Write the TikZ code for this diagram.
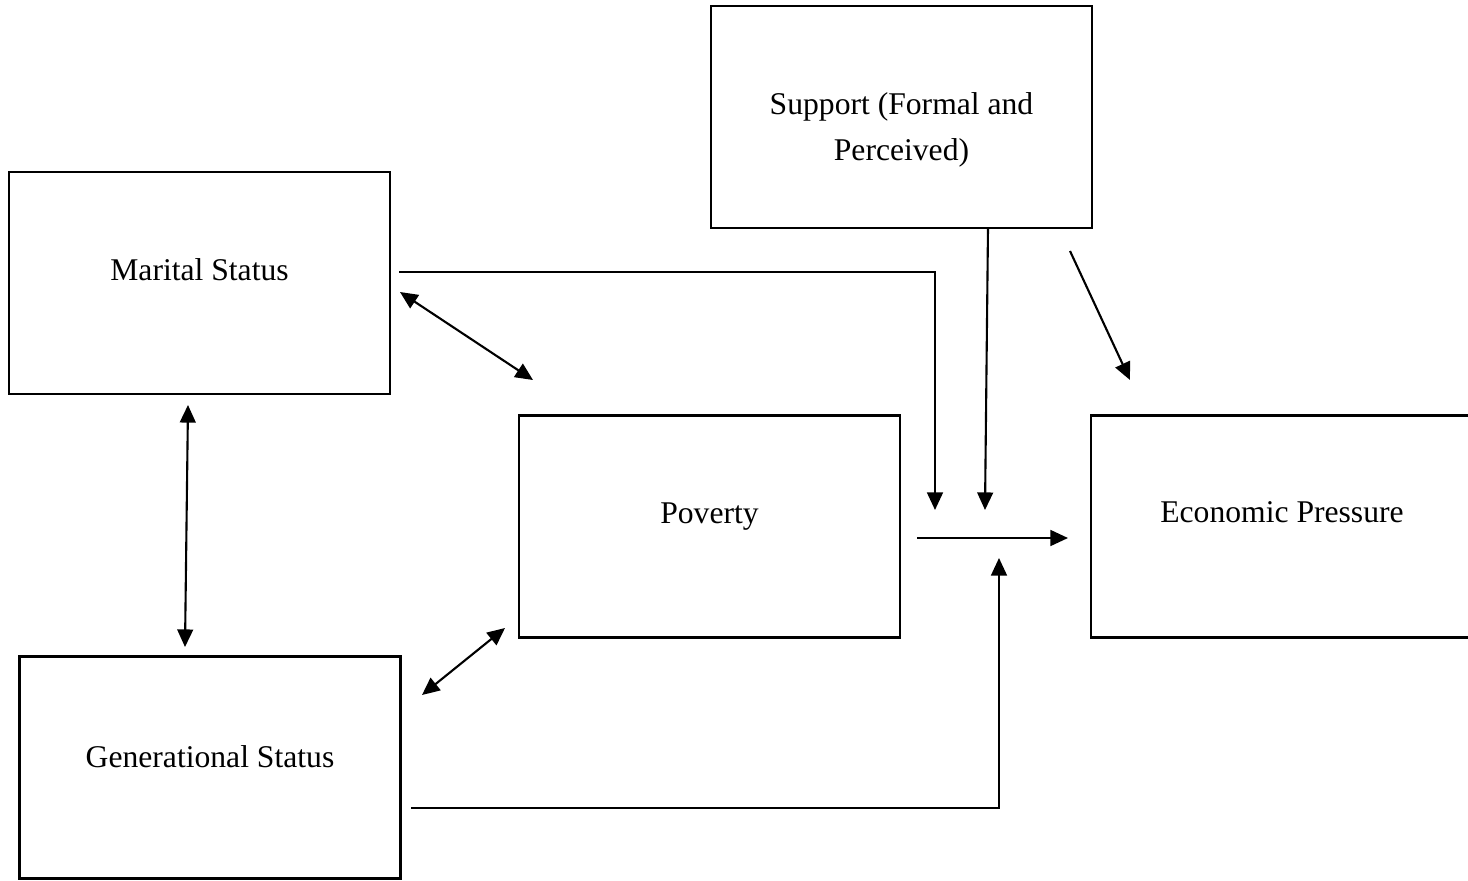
\documentclass[tikz,border=0pt]{standalone}
\usepackage{fontspec}
\setmainfont{Liberation Serif}
\usetikzlibrary{arrows.meta}

\begin{document}
\begin{tikzpicture}[x=0.02cm, y=-0.02cm,
    box/.style={draw, line width=1.4pt, minimum width=7.62cm, minimum height=4.44cm, inner sep=0pt},
    lbl/.style={font=\fontsize{18}{26}\selectfont, align=center, anchor=base},
    arr/.style={line width=1.2pt, -{Triangle[length=10pt,width=9pt]}},
    dbl/.style={line width=1.2pt, {Triangle[length=10pt,width=9pt]}-{Triangle[length=10pt,width=9pt]}}]

  % Page size (the right box runs off the page)
  \useasboundingbox (0,0) rectangle (1468,880);
  \clip (0,0) rectangle (1468,880);

  % Boxes
  \node[box] (sup) at (901.5,117) {};
  \node[box] (mar) at (199.5,283) {};
  \node[box] (pov) at (709.5,526.5) {};
  \node[box] (eco) at (1281.5,526.5) {};
  \node[box] (gen) at (210,767.5) {};

  % Box texts (base = last line)
  \node[lbl] (supT) at (901.5,160) {Support (Formal and\\Perceived)};
  \node[lbl] (marT) at (199.5,280) {Marital Status};
  \node[lbl] (povT) at (709.5,523) {Poverty};
  \node[lbl] (ecoT) at (1282,522) {Economic Pressure};
  \node[lbl] (genT) at (210,767) {Generational Status};

  % Free ends of the connectors
  \coordinate (marOut) at (399,272);
  \coordinate (marIn) at (935,510);
  \coordinate (supOut) at (988,228);
  \coordinate (supIn) at (985,510);
  \coordinate (supDia) at (1070,251);
  \coordinate (ecoTop) at (1130,380);
  \coordinate (povOut) at (917,538);
  \coordinate (ecoIn) at (1068,538);
  \coordinate (genOut) at (411,808);
  \coordinate (genIn) at (999,558);
  \coordinate (marPov) at (400,292);
  \coordinate (povMar) at (533,380);
  \coordinate (marGen) at (188,405);
  \coordinate (genMar) at (185,647);
  \coordinate (genPov) at (422,695);
  \coordinate (povGen) at (505,628);

  % One way arrows
  \draw[arr] (marOut) -| (marIn);
  \draw[arr] (supOut) -- (supIn);
  \draw[arr] (supDia) -- (ecoTop);
  \draw[arr] (povOut) -- (ecoIn);
  \draw[arr] (genOut) -| (genIn);

  % Two way arrows
  \draw[dbl] (marPov) -- (povMar);
  \draw[dbl] (marGen) -- (genMar);
  \draw[dbl] (genPov) -- (povGen);

\end{tikzpicture}
\end{document}
